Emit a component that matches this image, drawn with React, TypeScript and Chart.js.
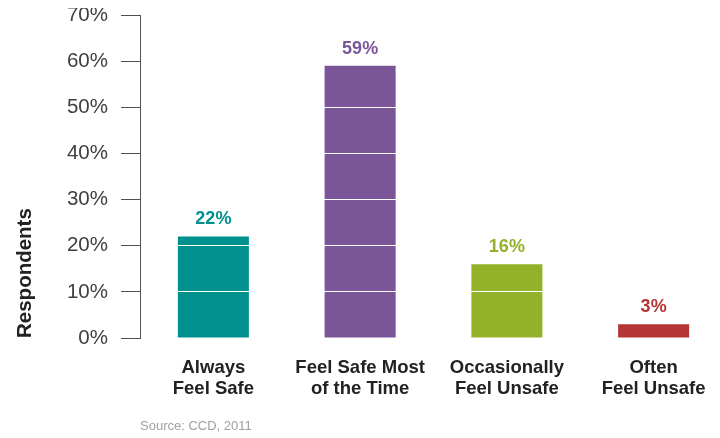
import React, { useEffect, useRef } from 'react';
import { Chart, registerables } from 'chart.js';

Chart.register(...registerables);

const categories: string[][] = [
  ['Always', 'Feel Safe'],
  ['Feel Safe Most', 'of the Time'],
  ['Occasionally', 'Feel Unsafe'],
  ['Often', 'Feel Unsafe'],
];
const values: number[] = [22, 59, 16, 3];
const barColors: string[] = ['#00918f', '#7a5699', '#93b22a', '#b33535'];
const yMin = 0;
const yMax = 70;
const yStep = 10;
const axisTitle = 'Respondents';
const sourceText = 'Source: CCD, 2011';

const FONT = '"Liberation Sans", Arial, Helvetica, sans-serif';

const labelPlugin = {
  id: 'valueLabels',
  afterDraw(chart: any) {
    const ctx = chart.ctx as CanvasRenderingContext2D;
    const meta = chart.getDatasetMeta(0);
    ctx.save();
    ctx.font = `bold 18px ${FONT}`;
    ctx.textAlign = 'center';
    ctx.textBaseline = 'middle';
    meta.data.forEach((bar: any, i: number) => {
      ctx.fillStyle = barColors[i];
      ctx.fillText(values[i] + '%', bar.x, bar.y - 17);
    });
    ctx.fillStyle = '#a0a0a0';
    ctx.font = `13px ${FONT}`;
    ctx.textAlign = 'left';
    ctx.fillText(sourceText, chart.chartArea.left, chart.chartArea.bottom + 88);
    ctx.restore();
  },
};

export default function App() {
  const canvasRef = useRef<HTMLCanvasElement | null>(null);

  useEffect(() => {
    if (!canvasRef.current) return;
    const chart = new Chart(canvasRef.current, {
      type: 'bar',
      data: {
        labels: categories,
        datasets: [
          {
            data: values,
            backgroundColor: barColors,
            borderWidth: 0,
            barPercentage: 0.484,
            categoryPercentage: 1,
          },
        ],
      },
      options: {
        responsive: false,
        animation: false,
        layout: { padding: { top: 15, right: 1, bottom: 0, left: 0 } },
        plugins: {
          legend: { display: false },
          tooltip: { enabled: false },
        },
        scales: {
          x: {
            grid: { display: false, drawTicks: false },
            border: { display: false },
            ticks: {
              color: '#222222',
              font: { family: FONT, size: 18.5, weight: 'bold', lineHeight: 1.12 },
              padding: 20,
              maxRotation: 0,
              autoSkip: false,
            },
            afterFit(s: any) {
              s.height = 100;
              s.paddingLeft = 0;
              s.paddingRight = 0;
            },
          },
          y: {
            min: yMin,
            max: yMax,
            ticks: {
              stepSize: yStep,
              callback: (v: any) => v + '%',
              color: '#404040',
              font: { family: FONT, size: 20.5 },
              padding: 13,
            },
            grid: {
              color: (c: any) => (c.tick && c.tick.value === 0 ? 'rgba(0,0,0,0)' : '#ffffff'),
              tickColor: '#505050',
              tickLength: 19,
              lineWidth: 1,
              z: 1,
            },
            border: { display: true, color: '#555555', width: 1, z: 1 },
            title: {
              display: true,
              text: axisTitle,
              align: 'start',
              color: '#222222',
              font: { family: FONT, size: 20.5, weight: 'bold' },
              padding: { top: 13, bottom: 0 },
            },
            afterFit(s: any) {
              s.width = 140;
              s.paddingTop = 0;
              s.paddingBottom = 0;
            },
          },
        },
      } as any,
      plugins: [labelPlugin],
    });
    return () => chart.destroy();
  }, []);

  return (
    <div style={{ margin: '-8px -8px 0 -8px', width: 720, height: 438, overflow: 'hidden' }}>
      <canvas ref={canvasRef} width={728} height={438} style={{ display: 'block' }} />
    </div>
  );
}
